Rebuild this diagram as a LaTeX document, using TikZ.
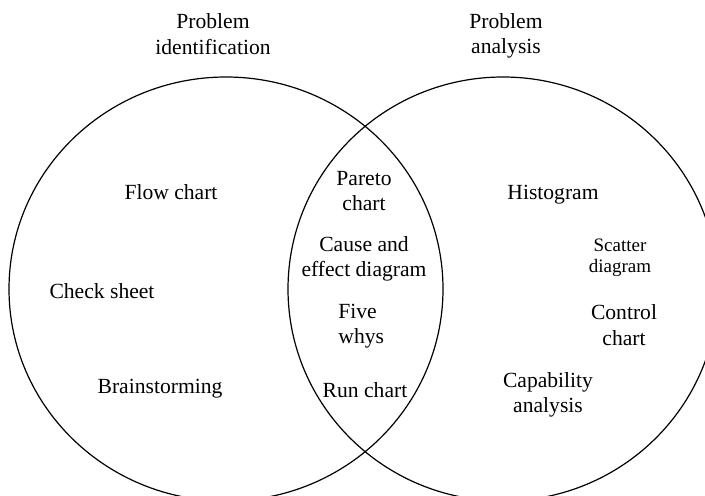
\documentclass[tikz,border=0pt]{standalone}
\usepackage{fontspec}
\setmainfont{Liberation Serif}
\usetikzlibrary{positioning}

\begin{document}
\begin{tikzpicture}[
    x=0.5pt, y=-0.5pt,
    % Text styles
    label/.style={
        font=\fontsize{10.8}{12.8}\selectfont,
        align=center, inner sep=0pt
    },
    smalllabel/.style={
        font=\fontsize{9.5}{10.6}\selectfont,
        align=center, inner sep=0pt
    },
    % Set outline
    setline/.style={
        draw=black, line width=0.6pt
    }
]

\useasboundingbox (0,0) rectangle (705,496);
\clip (0,0) rectangle (705,496);

% ============ SET TITLES ============
\node[label] (ident) at (213, 34) {Problem\\identification};
\node[label] (analysis) at (506, 36) {Problem\\analysis};

% ============ SETS ============
\draw[setline] (226, 289) ellipse [x radius=217, y radius=212];
\draw[setline] (503, 289) ellipse [x radius=215, y radius=212];

% ============ IDENTIFICATION ONLY ============
\node[label] (flow) at (171, 192) {Flow chart};
\node[label] (check) at (102, 291) {Check sheet};
\node[label] (brain) at (160, 389) {Brainstorming};

% ============ BOTH ============
\node[label] (pareto) at (364, 191) {Pareto\\chart};
\node[label] (cause) at (364, 259) {Cause and\\effect diagram};
\node[label, align=left, anchor=west] (five) at (338, 326) {Five\\whys};
\node[label] (run) at (365, 390) {Run chart};

% ============ ANALYSIS ONLY ============
\node[label] (histo) at (553, 195) {Histogram};
\node[smalllabel] (scatter) at (620, 258) {Scatter\\diagram};
\node[label] (control) at (624, 325) {Control\\chart};
\node[label] (capab) at (548, 395) {Capability\\analysis};

\end{tikzpicture}
\end{document}
